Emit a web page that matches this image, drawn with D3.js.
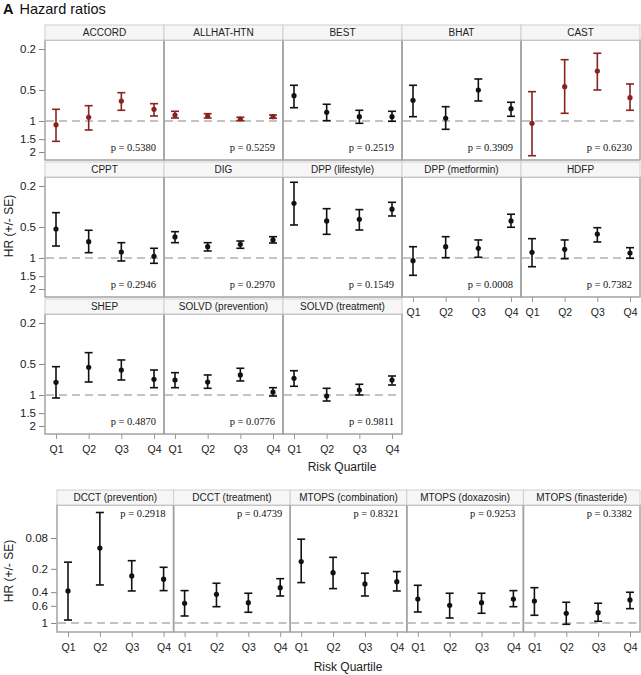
<!DOCTYPE html>
<html><head><meta charset="utf-8">
<script src="https://cdn.jsdelivr.net/npm/d3@7"></script>
<style>body{margin:0;background:#fff}svg{display:block}</style>
</head><body>
<script>
// ---------- data ----------
const quartiles = ["Q1","Q2","Q3","Q4"];

const topStudies = ["ACCORD","ALLHAT-HTN","BEST","BHAT","CAST",
  "CPPT","DIG","DPP (lifestyle)","DPP (metformin)","HDFP",
  "SHEP","SOLVD (prevention)","SOLVD (treatment)"];
const topHighlighted = ["ACCORD","ALLHAT-HTN","CAST"];
const topHR = [
  [1.09,0.92,0.64,0.77],
  [0.874,0.894,0.956,0.908],
  [0.568,0.823,0.908,0.908],
  [0.629,0.941,0.500,0.759],
  [1.053,0.464,0.327,0.594],
  [0.523,0.694,0.874,0.963],
  [0.625,0.777,0.736,0.668],
  [0.294,0.437,0.421,0.336],
  [1.062,0.777,0.805,0.437],
  [0.880,0.823,0.585,0.894],
  [0.753,0.538,0.572,0.704],
  [0.715,0.748,0.639,0.935],
  [0.688,1.023,0.894,0.715]
];
const topLo = [
  [0.770,0.710,0.531,0.679],
  [0.805,0.849,0.920,0.874],
  [0.450,0.688,0.787,0.805],
  [0.450,0.726,0.391,0.658],
  [0.519,0.254,0.220,0.437],
  [0.363,0.538,0.710,0.805],
  [0.555,0.710,0.684,0.621],
  [0.184,0.332,0.339,0.288],
  [0.777,0.621,0.668,0.376],
  [0.649,0.668,0.508,0.794],
  [0.531,0.388,0.457,0.572],
  [0.607,0.639,0.550,0.849],
  [0.581,0.861,0.787,0.654]
];
const topHi = [
  [1.575,1.223,0.787,0.894],
  [0.935,0.935,0.993,0.941],
  [0.743,0.993,1.053,1.007],
  [0.908,1.204,0.639,0.900],
  [2.173,0.842,0.500,0.787],
  [0.765,0.888,1.069,1.126],
  [0.710,0.855,0.805,0.715],
  [0.478,0.589,0.535,0.391],
  [1.473,0.993,0.984,0.503],
  [1.215,1.016,0.699,1.007],
  [1.069,0.748,0.715,0.849],
  [0.849,0.861,0.731,1.023],
  [0.823,1.144,1.000,0.800]
];
const topP = ["0.5380","0.5259","0.2519","0.3909","0.6230",
  "0.2946","0.2970","0.1549","0.0008","0.7382",
  "0.4870","0.0776","0.9811"];
const topTicks = [0.2,0.5,1,1.5,2];

const bottomStudies = ["DCCT (prevention)","DCCT (treatment)","MTOPS (combination)",
  "MTOPS (doxazosin)","MTOPS (finasteride)"];
const bottomHR = [
  [0.386,0.108,0.247,0.272],
  [0.556,0.426,0.547,0.350],
  [0.161,0.224,0.313,0.293],
  [0.490,0.591,0.547,0.490],
  [0.520,0.749,0.736,0.504]
];
const bottomLo = [
  [0.164,0.0375,0.157,0.191],
  [0.382,0.307,0.413,0.268],
  [0.0828,0.142,0.228,0.217],
  [0.326,0.413,0.413,0.382],
  [0.350,0.540,0.556,0.401]
];
const bottomHi = [
  [0.915,0.323,0.386,0.382],
  [0.812,0.616,0.727,0.448],
  [0.301,0.360,0.448,0.386],
  [0.721,0.862,0.749,0.616],
  [0.795,1.039,0.951,0.653]
];
const bottomP = ["0.2918","0.4739","0.8321","0.9253","0.3382"];
const bottomTicks = [0.08,0.2,0.4,0.6,1];

// ---------- drawing ----------
const W = 641, H = 675;
const svg = d3.select("body").append("svg").attr("width", W).attr("height", H);
const SANS = "Arial, 'Liberation Sans', sans-serif";
const SERIF = "'Times New Roman', 'Liberation Serif', serif";
const RED = "#8b2222";
const FRAME = "#a3a3a3";

// title
const title = svg.append("text").attr("x", 3).attr("y", 14)
  .attr("font-family", SANS).attr("font-size", 14.5).attr("fill", "#111");
title.append("tspan").attr("font-weight", "bold").text("A");
title.append("tspan").attr("dx", 6).text("Hazard ratios");

function drawSection(cfg) {
  const {studies, hr, lo, hi, pvals, left, panelW, ncol, stripTop0, rowPitch,
         stripH, plotH, yDomain, yRange, ticks, pAtTop, highlighted} = cfg;
  const x = d3.scalePoint().domain(quartiles).range([11, panelW - 10]);
  const nrow = Math.ceil(studies.length / ncol);

  for (let r = 0; r < nrow; r++) {
    const plotTop = stripTop0 + r * rowPitch + stripH;
    const y = d3.scaleLog().domain(yDomain).range(yRange.map(v => v + plotTop));
    // y axis
    const ax = svg.append("g").attr("transform", `translate(${left},0)`)
      .call(d3.axisLeft(y).tickValues(ticks).tickFormat(d3.format("")).tickSize(6).tickPadding(3));
    ax.select(".domain").remove();
    ax.selectAll(".tick line").attr("stroke", "#888");
    ax.selectAll(".tick text").attr("font-family", SANS).attr("font-size", 11.5).attr("fill", "#222");
  }

  studies.forEach((name, i) => {
    const col = i % ncol, row = Math.floor(i / ncol);
    const gx = left + col * panelW;
    const stripTop = stripTop0 + row * rowPitch;
    const plotTop = stripTop + stripH;
    const y = d3.scaleLog().domain(yDomain).range(yRange);
    const color = highlighted.includes(name) ? RED : "#111";
    const g = svg.append("g").attr("transform", `translate(${gx},${plotTop})`);

    // strip
    svg.append("rect").attr("x", gx).attr("y", stripTop).attr("width", panelW).attr("height", stripH)
      .attr("fill", "#f6f6f6").attr("stroke", "#cfcfcf").attr("stroke-width", 1);
    svg.append("text").attr("x", gx + panelW / 2).attr("y", stripTop + stripH / 2 + 3.5)
      .attr("text-anchor", "middle").attr("font-family", SANS).attr("font-size", 10)
      .attr("fill", "#222").text(name);

    // frame
    g.append("rect").attr("width", panelW).attr("height", plotH)
      .attr("fill", "none").attr("stroke", FRAME).attr("stroke-width", 1.5);

    // reference line at HR = 1
    g.append("line").attr("x1", 1).attr("x2", panelW - 1)
      .attr("y1", y(1)).attr("y2", y(1))
      .attr("stroke", "#b0b0b0").attr("stroke-width", 1.5).attr("stroke-dasharray", "8,5");

    const data = quartiles.map((q, k) => ({q, hr: hr[i][k], lo: lo[i][k], hi: hi[i][k]}));
    const eb = g.selectAll(".eb").data(data).enter().append("g");
    eb.append("line").attr("x1", d => x(d.q)).attr("x2", d => x(d.q))
      .attr("y1", d => y(d.lo)).attr("y2", d => y(d.hi))
      .attr("stroke", color).attr("stroke-width", 1.6);
    [d => y(d.lo), d => y(d.hi)].forEach(fy => {
      eb.append("line").attr("x1", d => x(d.q) - 4).attr("x2", d => x(d.q) + 4)
        .attr("y1", fy).attr("y2", fy).attr("stroke", color).attr("stroke-width", 1.6);
    });
    eb.append("circle").attr("cx", d => x(d.q)).attr("cy", d => y(d.hr)).attr("r", 2.6)
      .attr("fill", color);

    // p value
    g.append("text").attr("x", panelW - 8).attr("y", pAtTop ? 12 : plotH - 9)
      .attr("text-anchor", "end").attr("font-family", SERIF).attr("font-size", 10.5)
      .attr("fill", "#111").text("p = " + pvals[i]);

    // x axis if last in column
    const below = i + ncol;
    if (below >= studies.length) {
      const xa = svg.append("g").attr("transform", `translate(${gx},${plotTop + plotH})`)
        .call(d3.axisBottom(x).tickSize(5).tickPadding(7));
      xa.select(".domain").remove();
      xa.selectAll(".tick line").attr("stroke", "#999");
      xa.selectAll(".tick text").attr("font-family", SANS).attr("font-size", 10.5).attr("fill", "#222");
    }
  });
}

drawSection({
  studies: topStudies, hr: topHR, lo: topLo, hi: topHi, pvals: topP,
  left: 45, panelW: 119, ncol: 5, stripTop0: 25, rowPitch: 137, stripH: 15, plotH: 120,
  yDomain: [0.2, 1], yRange: [9, 81], ticks: topTicks, pAtTop: false, highlighted: topHighlighted
});
drawSection({
  studies: bottomStudies, hr: bottomHR, lo: bottomLo, hi: bottomHi, pvals: bottomP,
  left: 57, panelW: 116.6, ncol: 5, stripTop0: 490, rowPitch: 137, stripH: 15, plotH: 127,
  yDomain: [0.08, 1], yRange: [33, 118], ticks: bottomTicks, pAtTop: true, highlighted: []
});

// axis titles
svg.append("text").attr("transform", "translate(13,226) rotate(-90)")
  .attr("text-anchor", "middle").attr("font-family", SANS).attr("font-size", 12)
  .attr("fill", "#222").text("HR (+/- SE)");
svg.append("text").attr("transform", "translate(13,571) rotate(-90)")
  .attr("text-anchor", "middle").attr("font-family", SANS).attr("font-size", 12)
  .attr("fill", "#222").text("HR (+/- SE)");
svg.append("text").attr("x", 342).attr("y", 471).attr("text-anchor", "middle")
  .attr("font-family", SANS).attr("font-size", 12).attr("fill", "#222").text("Risk Quartile");
svg.append("text").attr("x", 348).attr("y", 671).attr("text-anchor", "middle")
  .attr("font-family", SANS).attr("font-size", 12).attr("fill", "#222").text("Risk Quartile");
</script>
</body></html>
